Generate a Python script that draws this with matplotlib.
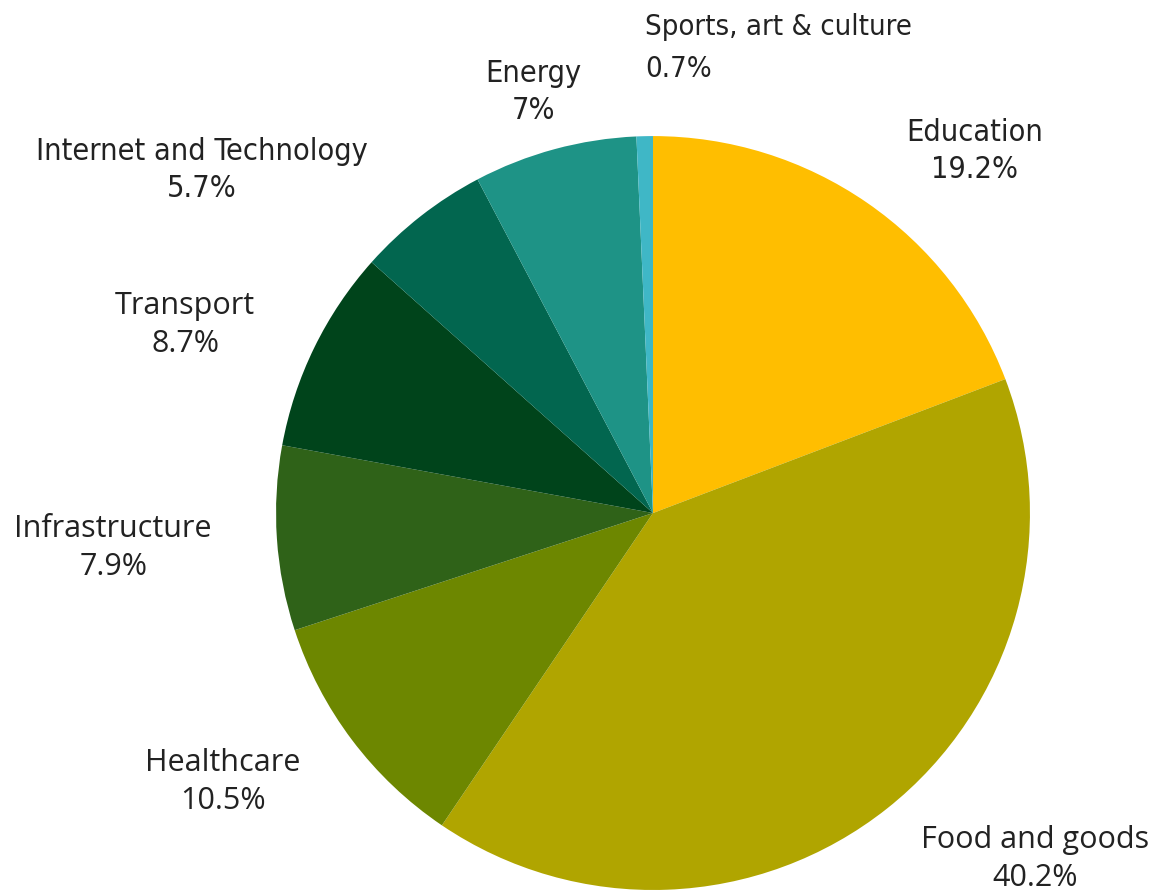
import matplotlib.pyplot as plt
import numpy as np

categories = ['Education', 'Food and goods', 'Healthcare', 'Infrastructure',
              'Transport', 'Internet and Technology', 'Energy', 'Sports, art & culture']
shares = [19.2, 40.2, 10.5, 7.9, 8.7, 5.7, 7.0, 0.7]
pct_labels = ['19.2%', '40.2%', '10.5%', '7.9%', '8.7%', '5.7%', '7%', '0.7%']
colors = ['#FFBE00', '#B0A500', '#6D8700', '#2F6218', '#00441B',
          '#02664F', '#1E9386', '#3FB7C6']

# label spots (pie radius = 1)
label_pos = [(0.854, 0.96), (1.013, -0.918), (-1.141, -0.714), (-1.432, -0.093),
             (-1.241, 0.499), (-1.196, 0.910), (-0.318, 1.117), (-0.021, 1.233)]
narrow = [True, False, False, False, False, True, True, True]

fig = plt.figure(figsize=(11.62, 8.93), dpi=100)
ax = fig.add_axes([0, 0, 1, 1])
ax.pie(shares, colors=colors, startangle=90, counterclock=False, radius=1,
       normalize=True, wedgeprops=dict(linewidth=0))
ax.set_xlim(-1.732, 1.350)
ax.set_ylim(-1.008, 1.361)
ax.set_aspect('equal')
ax.axis('off')

for i, name in enumerate(categories):
    x, y = label_pos[i]
    txt = name + '\n' + pct_labels[i]
    if narrow[i]:
        if i == 7:
            ax.text(x, y, txt, ha='left', va='center', fontsize=21,
                    family=['DejaVu Sans'], fontstretch='condensed',
                    color='#222222', linespacing=1.65)
        else:
            ax.text(x, y, txt, ha='center', va='center', fontsize=22,
                    family=['DejaVu Sans'], fontstretch='condensed',
                    color='#222222', linespacing=1.35)
    else:
        ax.text(x, y, txt, ha='center', va='center', fontsize=22,
                family=['Open Sans', 'DejaVu Sans'], color='#222222', linespacing=1.35)

fig.savefig('out.png', dpi=100)
